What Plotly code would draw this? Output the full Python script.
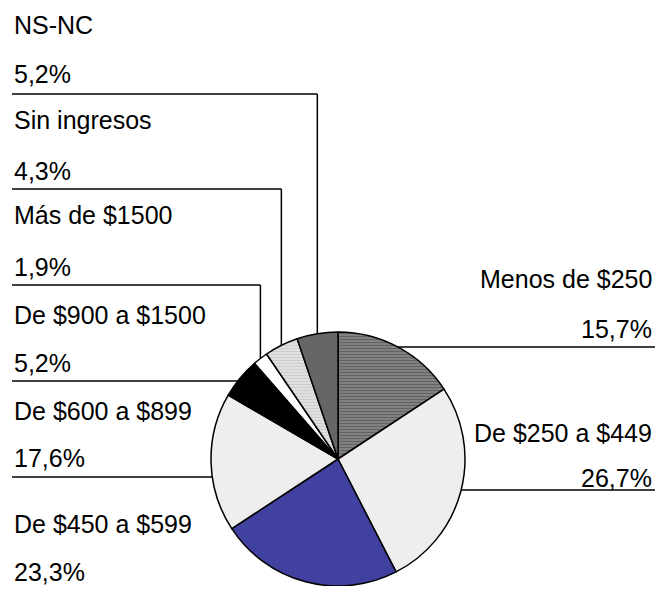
import math
import plotly.graph_objects as go

# ---- data ----
categories = ["Menos de $250", "De $250 a $449", "De $450 a $599", "De $600 a $899",
              "De $900 a $1500", "Más de $1500", "Sin ingresos", "NS-NC"]
values = [15.7, 26.7, 23.3, 17.6, 5.2, 1.9, 4.3, 5.2]
pct_labels = ["15,7%", "26,7%", "23,3%", "17,6%", "5,2%", "1,9%", "4,3%", "5,2%"]

# ---- style ----
colors = ["#8a8a8a", "#eeeeee", "#40409e", "#eeeeee", "#000000", "#ffffff", "#e2e2e2", "#666666"]
pat_shape = ["-", "", "|", "", "", "", "-", ""]
pat_fg = ["#3a3a3a", "#eeeeee", "#38388f", "#eeeeee", "#000000", "#ffffff", "#b4b4b4", "#666666"]
pat_bg = ["#8a8a8a", "#eeeeee", "#4444a6", "#eeeeee", "#000000", "#ffffff", "#e6e6e6", "#666666"]

PAGE_W, PAGE_H = 663, 594
OFF = 8  # default body margin of the page
W, H = PAGE_W - 2 * OFF, PAGE_H - 2 * OFF
RIGHT = OFF + W  # last visible page x
CX, CY, R = 338, 459, 127
FONT = dict(family="Liberation Sans, Arial, sans-serif", size=25, color="#000000")

def X(px):
    return (px - OFF) / W

def Y(py):
    return 1 - (py - OFF) / H

fig = go.Figure()
fig.add_trace(go.Pie(
    labels=categories, values=values, sort=False, direction="clockwise", rotation=0,
    textinfo="none", hoverinfo="label+percent", showlegend=False,
    marker=dict(colors=colors, line=dict(color="#000000", width=1.5),
                pattern=dict(shape=pat_shape, fgcolor=pat_fg, bgcolor=pat_bg,
                             size=3, solidity=0.5, fillmode="overlay")),
    domain=dict(x=[X(CX - R), X(CX + R)], y=[Y(CY + R), Y(CY - R)]),
))

# label layout: (category index, side, name y, pct y, leader y, leader kind)
layout_spec = [
    (7, "left", 24, 73, 94, "vertical"),
    (6, "left", 119, 170, 189, "vertical"),
    (5, "left", 214, 266, 285, "vertical"),
    (4, "left", 314, 362, 381, "horizontal"),
    (3, "left", 410, 457, 477, "horizontal"),
    (2, "left", 523, 571, None, None),
    (0, "right", 278, 328, 347, "horizontal"),
    (1, "right", 432, 477, 490, "horizontal"),
]

total = sum(values)
cum = [0]
for v in values:
    cum.append(cum[-1] + v)

shapes = []
annotations = []
LINE = dict(color="#000000", width=1.5)
for idx, side, yn, yp, yl, kind in layout_spec:
    if side == "left":
        xa, anchor = X(12), "left"
    else:
        xa, anchor = X(RIGHT - 1), "right"
    for txt, yy in ((categories[idx], yn), (pct_labels[idx], yp)):
        annotations.append(dict(text=txt, x=xa, y=Y(yy + 1), xref="paper", yref="paper",
                                xanchor=anchor, yanchor="middle", showarrow=False, font=FONT))
    if kind is None:
        continue
    if kind == "vertical":
        theta = 2 * math.pi * (cum[idx] + values[idx] / 2) / total
        xv = CX + R * math.sin(theta)
        ye = CY - R * math.cos(theta)
        shapes.append(dict(type="line", xref="paper", yref="paper",
                           x0=X(12), y0=Y(yl), x1=X(xv), y1=Y(yl), line=LINE))
        shapes.append(dict(type="line", xref="paper", yref="paper",
                           x0=X(xv), y0=Y(yl), x1=X(xv), y1=Y(ye), line=LINE))
    else:
        dx = math.sqrt(max(R * R - (yl - CY) ** 2, 0))
        if side == "left":
            shapes.append(dict(type="line", xref="paper", yref="paper",
                               x0=X(12), y0=Y(yl), x1=X(CX - dx), y1=Y(yl), line=LINE))
        else:
            shapes.append(dict(type="line", xref="paper", yref="paper",
                               x0=X(CX + dx), y0=Y(yl), x1=1, y1=Y(yl), line=LINE))

fig.update_layout(
    width=W, height=H, margin=dict(l=0, r=0, t=0, b=0),
    paper_bgcolor="#ffffff", plot_bgcolor="#ffffff",
    shapes=shapes, annotations=annotations,
)
fig.write_html("out.html")
